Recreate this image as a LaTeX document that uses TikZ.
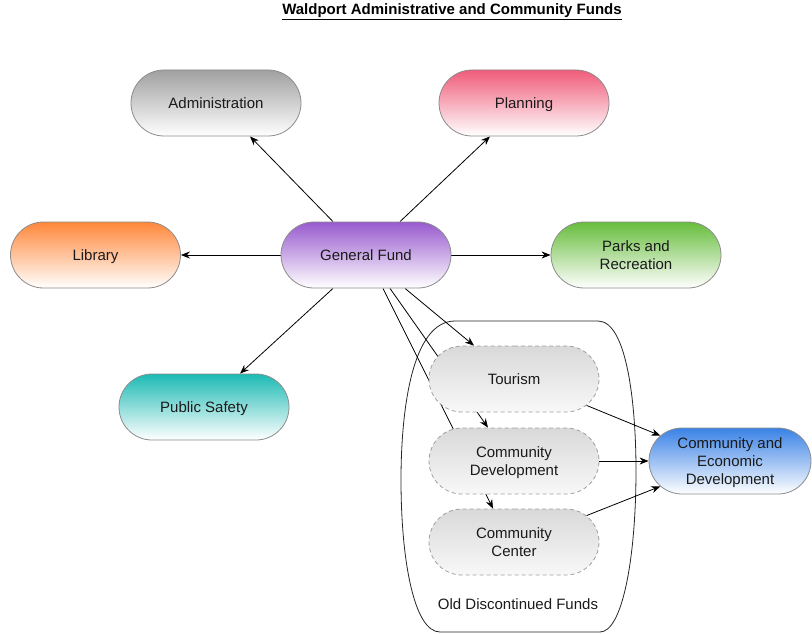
\documentclass[tikz,border=0pt]{standalone}
\usepackage{fontspec}
\setmainfont{Liberation Sans}
\usetikzlibrary{shapes.misc,arrows.meta,calc}
\pgfdeclarelayer{background}
\pgfsetlayers{background,main}
\definecolor{bordergray}{HTML}{8C8C8C}
\definecolor{dashgray}{HTML}{A0A0A0}
\definecolor{textc}{HTML}{1A1A1A}
\definecolor{admtop}{HTML}{A0A0A0}
\definecolor{plantop}{HTML}{F05C7A}
\definecolor{libtop}{HTML}{FF873A}
\definecolor{gftop}{HTML}{985ACE}
\definecolor{parktop}{HTML}{67BD3C}
\definecolor{pstop}{HTML}{1DBAB4}
\definecolor{cedtop}{HTML}{3A82E6}
\definecolor{oldtop}{HTML}{D9D9D9}
\definecolor{oldbot}{HTML}{F8F8F8}
\begin{document}
\begin{tikzpicture}[x=1pt,y=-1pt,
  pill/.style={rounded rectangle, draw=bordergray, line width=0.8pt,
    minimum width=170pt, minimum height=66pt, inner sep=0pt, align=center,
    text depth=0pt,
    font=\fontsize{15}{18}\selectfont, text=textc, bottom color=white},
  oldfund/.style={pill, draw=dashgray, dash pattern=on 4pt off 3pt,
    top color=oldtop, bottom color=oldbot},
  conn/.style={draw=black, line width=0.8pt, -{Stealth[length=9pt,width=7pt]}},
  frame/.style={draw=black!85, line width=0.8pt},
  lbl/.style={font=\fontsize{15}{18}\selectfont, text=textc},
]
\useasboundingbox (0,0) rectangle (812,634);

\node[font=\fontsize{15}{18}\selectfont\bfseries, text=black] (title) at (452,12)
  {\underline{Waldport Administrative and Community Funds}};

\node[pill, top color=admtop]  (adm)   at (216,103) {Administration};
\node[pill, top color=plantop] (plan)  at (524,103) {Planning};
\node[pill, top color=libtop]  (lib)   at (95.5,255) {Library};
\node[pill, top color=gftop]   (gf)    at (366,255) {General Fund};
\node[pill, top color=parktop] (parks) at (636,255) {Parks and\\Recreation};
\node[pill, top color=pstop]   (ps)    at (204,407) {Public Safety};
\node[pill, top color=cedtop, minimum width=162pt] (ced) at (730,461)
  {Community and\\Economic\\Development};

\node[oldfund] (tour) at (514,379) {Tourism};
\node[oldfund] (cd)   at (514,461) {Community\\Development};
\node[oldfund] (cc)   at (514,542) {Community\\Center};

\node[lbl] (oldlbl) at (518,604) {Old Discontinued Funds};

\begin{pgfonlayer}{background}
  \draw[frame] (455,321) -- (598,321)
    .. controls (628,321) and (636,410) .. (636,470)
    .. controls (636,560) and (622,632) .. (600,632)
    -- (440,632)
    .. controls (414,632) and (401,560) .. (401,480)
    .. controls (401,410) and (412,321) .. (455,321) -- cycle;

  \draw[conn] ([xshift=-33pt]gf.north) -- ([xshift=34pt]adm.south);
  \draw[conn] ([xshift=34pt]gf.north) -- ([xshift=-34pt]plan.south);
  \draw[conn] (gf.west) -- (lib.east);
  \draw[conn] (gf.east) -- (parks.west);
  \draw[conn] ([xshift=-33pt]gf.south) -- ([xshift=36pt]ps.north);
  \draw[conn] ([xshift=39pt]gf.south) -- ([xshift=-40pt]tour.north);
  \draw[conn] ([xshift=24pt]gf.south) -- ([xshift=-26pt]cd.north);
  \draw[conn] ([xshift=17pt]gf.south) -- ([xshift=-21pt]cc.north);
  \draw[conn] (tour.-20) -- (ced.160);
  \draw[conn] (cd.east) -- (ced.west);
  \draw[conn] (cc.20) -- (ced.200);
\end{pgfonlayer}
\end{tikzpicture}
\end{document}
